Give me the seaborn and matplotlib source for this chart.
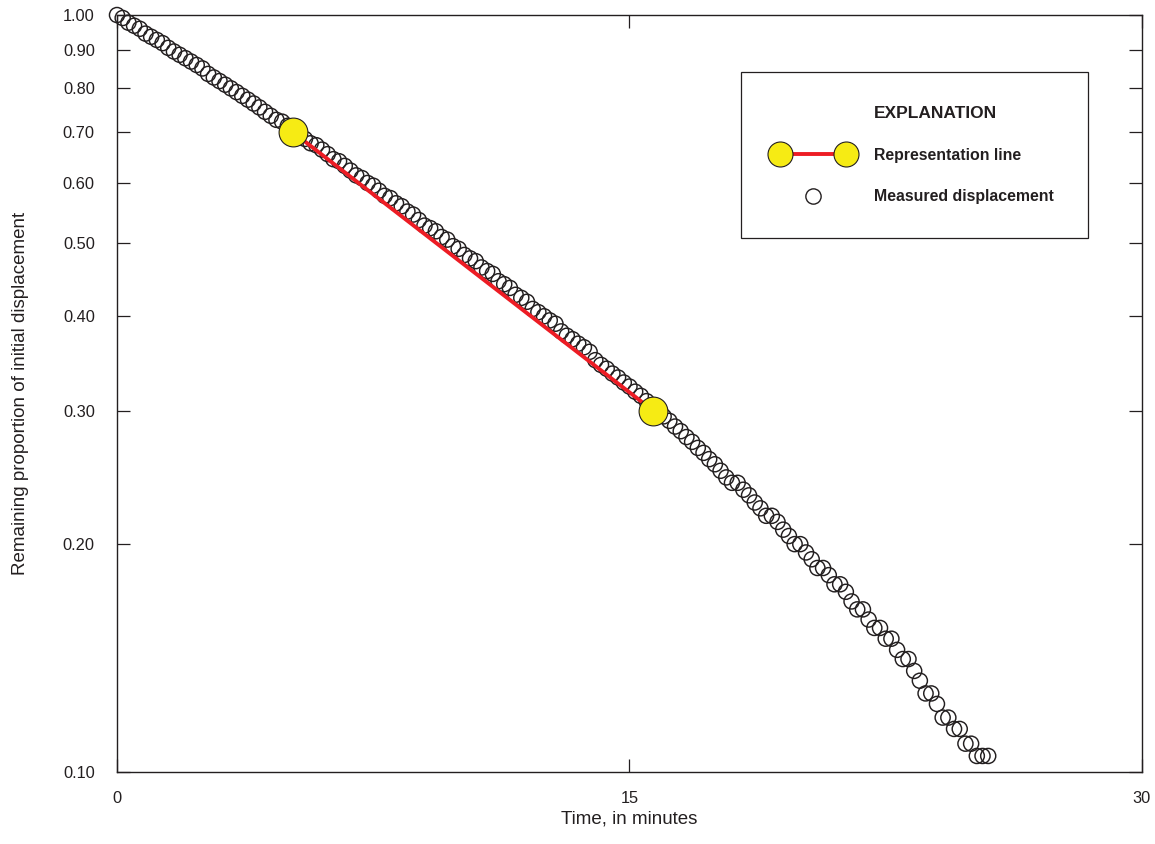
import numpy as np
import pandas as pd
import matplotlib
matplotlib.use("Agg")
import matplotlib.pyplot as plt
import seaborn as sns
from matplotlib.lines import Line2D
from matplotlib.legend_handler import HandlerLine2D
from matplotlib.ticker import NullLocator

# slug test record: elapsed time (seconds) and remaining proportion of displacement
elapsed_s = [
    0, 10, 20, 30, 40, 50, 60, 70, 80, 90, 100, 110, 120, 130, 140, 150, 160, 170,
    180, 190, 200, 210, 220, 230, 240, 250, 260, 270, 280, 290, 300, 310, 320, 330,
    340, 350, 360, 370, 380, 390, 400, 410, 420, 430, 440, 450, 460, 470, 480, 490,
    500, 510, 520, 530, 540, 550, 560, 570, 580, 590, 600, 610, 620, 630, 640, 650,
    660, 670, 680, 690, 700, 710, 720, 730, 740, 750, 760, 770, 780, 790, 800, 810,
    820, 830, 840, 850, 860, 870, 880, 890, 900, 910, 920, 930, 940, 950, 960, 970,
    980, 990, 1000, 1010, 1020, 1030, 1040, 1050, 1060, 1070, 1080, 1090, 1100, 1110,
    1120, 1130, 1140, 1150, 1160, 1170, 1180, 1190, 1200, 1210, 1220, 1230, 1240, 1250,
    1260, 1270, 1280, 1290, 1300, 1310, 1320, 1330, 1340, 1350, 1360, 1370, 1380, 1390,
    1400, 1410, 1420, 1430, 1440, 1450, 1460, 1470, 1480, 1490, 1500, 1510, 1520, 1530,
]
remaining = [
    1.000, 0.991, 0.977, 0.968, 0.959, 0.945,
    0.936, 0.927, 0.918, 0.905, 0.895, 0.886,
    0.877, 0.868, 0.859, 0.850, 0.836, 0.827,
    0.818, 0.809, 0.800, 0.791, 0.782, 0.773,
    0.764, 0.755, 0.745, 0.736, 0.727, 0.723,
    0.714, 0.705, 0.695, 0.686, 0.677, 0.673,
    0.664, 0.655, 0.645, 0.641, 0.632, 0.623,
    0.614, 0.609, 0.600, 0.595, 0.586, 0.577,
    0.573, 0.564, 0.559, 0.550, 0.545, 0.536,
    0.527, 0.523, 0.518, 0.509, 0.505, 0.495,
    0.491, 0.482, 0.477, 0.473, 0.464, 0.459,
    0.455, 0.445, 0.441, 0.436, 0.427, 0.423,
    0.418, 0.409, 0.405, 0.400, 0.395, 0.391,
    0.382, 0.377, 0.373, 0.368, 0.364, 0.359,
    0.350, 0.345, 0.341, 0.336, 0.332, 0.327,
    0.323, 0.318, 0.314, 0.309, 0.305, 0.300,
    0.295, 0.291, 0.286, 0.282, 0.277, 0.273,
    0.268, 0.264, 0.259, 0.255, 0.250, 0.245,
    0.241, 0.241, 0.236, 0.232, 0.227, 0.223,
    0.218, 0.218, 0.214, 0.209, 0.205, 0.200,
    0.200, 0.195, 0.191, 0.186, 0.186, 0.182,
    0.177, 0.177, 0.173, 0.168, 0.164, 0.164,
    0.159, 0.155, 0.155, 0.150, 0.150, 0.145,
    0.141, 0.141, 0.136, 0.132, 0.127, 0.127,
    0.123, 0.118, 0.118, 0.114, 0.114, 0.109,
    0.109, 0.105, 0.105, 0.105,
]

# representation line end points
rep_time = [5.15, 15.7]
rep_value = [0.70, 0.30]

y_ticks = [0.10, 0.20, 0.30, 0.40, 0.50, 0.60, 0.70, 0.80, 0.90, 1.00]
y_tick_labels = ["0.10", "0.20", "0.30", "0.40", "0.50", "0.60", "0.70", "0.80", "0.90", "1.00"]
x_ticks = [0, 15, 30]
x_tick_labels = ["0", "15", "30"]

ink = "#231f20"
red = "#ed1c24"
yellow = "#f6eb14"

sns.set_style("ticks")
plt.rcParams["font.family"] = ["Liberation Sans", "DejaVu Sans"]
plt.rcParams["text.color"] = ink
plt.rcParams["axes.labelcolor"] = ink

measured = pd.DataFrame({"minutes": np.array(elapsed_s) / 60.0, "proportion": remaining})
rep = pd.DataFrame({"minutes": rep_time, "proportion": rep_value})

fig = plt.figure(figsize=(11.55, 8.44), dpi=100)
ax = fig.add_axes([0.1013, 0.0853, 0.8874, 0.8969])

sns.scatterplot(data=measured, x="minutes", y="proportion", ax=ax, marker="o", s=118,
                facecolor="none", edgecolor=ink, linewidth=1.05, zorder=2,
                clip_on=False, legend=False)
sns.lineplot(data=rep, x="minutes", y="proportion", ax=ax, color=red,
             linewidth=2.8, zorder=3, legend=False)
sns.scatterplot(data=rep, x="minutes", y="proportion", ax=ax, marker="o", s=430,
                color=yellow, edgecolor=ink, linewidth=0.8, zorder=4,
                clip_on=False, legend=False)

ax.set_yscale("log")
ax.set_xlim(0, 30)
ax.set_ylim(0.1, 1.0)
ax.set_yticks(y_ticks, y_tick_labels)
ax.set_xticks(x_ticks, x_tick_labels)
ax.yaxis.set_minor_locator(NullLocator())
ax.xaxis.set_minor_locator(NullLocator())
ax.tick_params(axis="both", which="major", direction="in", length=9.4, width=0.9,
               colors=ink, labelsize=11.8, top=True, right=True)
ax.tick_params(axis="y", pad=16)
ax.tick_params(axis="x", pad=14)
for sp in ax.spines.values():
    sp.set_linewidth(1.0)
    sp.set_color(ink)

ax.set_xlabel("Time, in minutes", fontsize=13.5)
ax.set_ylabel("Remaining proportion of initial displacement", fontsize=13.5)
ax.xaxis.set_label_coords(0.5, -0.051)
ax.yaxis.set_label_coords(-0.086, 0.5)

# explanation box
title_handle = Line2D([], [], linestyle="none")
rep_handle = Line2D([], [], color=red, linewidth=2.8, marker="o", markersize=18,
                    markerfacecolor=yellow, markeredgecolor=ink, markeredgewidth=0.8)
meas_handle = Line2D([], [], linestyle="none", marker="o", markersize=11,
                     markerfacecolor="none", markeredgecolor=ink, markeredgewidth=1.0)
leg = ax.legend(handles=[title_handle, rep_handle, meas_handle],
                labels=["EXPLANATION", "Representation line", "Measured displacement"],
                handler_map={rep_handle: HandlerLine2D(numpoints=2),
                             meas_handle: HandlerLine2D(numpoints=1)},
                loc="upper left", bbox_to_anchor=(0.609, 0.9247), borderaxespad=0,
                prop={"weight": "bold", "size": 11.4}, handlelength=4.75,
                handletextpad=1.49, borderpad=2.15, labelspacing=1.68,
                fancybox=False, framealpha=1, edgecolor=ink, frameon=True)
leg.get_frame().set_linewidth(0.9)
leg.get_texts()[0].set_fontsize(12.5)

fig.savefig("out.png", dpi=100)
